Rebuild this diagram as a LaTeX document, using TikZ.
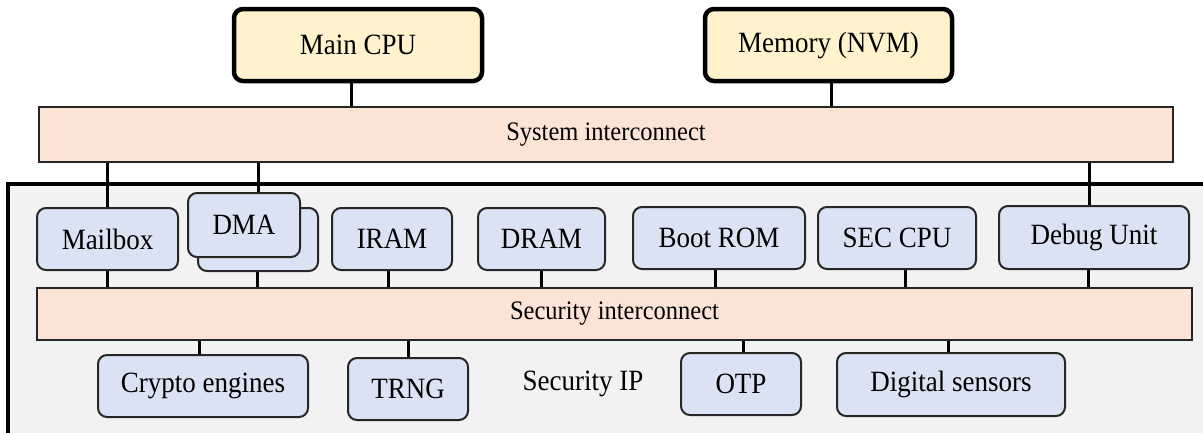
\documentclass[tikz,border=0pt]{standalone}
\usepackage{fontspec}
\usetikzlibrary{backgrounds}
\setmainfont{Liberation Serif}
\definecolor{hostfill}{HTML}{FFF2CC}
\definecolor{busfill}{HTML}{FBE3D6}
\definecolor{ipfill}{HTML}{DAE3F3}
\definecolor{zonefill}{HTML}{F2F2F2}
\tikzset{
  hostbox/.style={draw=black, line width=4.5pt, fill=hostfill, rounded corners=9pt,
    inner sep=0pt, font=\fontsize{27}{31}\selectfont},
  ipbox/.style={draw=black!85, line width=2pt, fill=ipfill, rounded corners=9pt,
    inner sep=0pt, font=\fontsize{27}{31}\selectfont},
  busbar/.style={draw=black!85, line width=1.6pt, fill=busfill, inner sep=0pt,
    font=\fontsize{24.5}{28}\selectfont},
  wire/.style={draw=black, line width=3pt},
}
% labels are set slightly taller than the plain face
\newcommand{\tall}[1]{\scalebox{1}[1.09]{#1}}
\newcommand{\blk}[7]{% style, name, x0, y0, x1, y1, text
  \node[#1, minimum width={#5-#3}, minimum height={#6-#4}] (#2) at ({(#3+#5)/2},{(#4+#6)/2}) {\tall{#7}};}
\begin{document}
\begin{tikzpicture}[x=1pt, y=-1pt]
  \useasboundingbox (0,0) rectangle (1203,432);

  % interconnects
  \blk{busbar}{sysic}{39}{107}{1173}{162}{System interconnect}
  \blk{busbar}{secic}{37}{288}{1192}{340}{Security interconnect}

  % host side
  \blk{hostbox}{mcpu}{234}{9}{482}{81}{Main CPU}
  \blk{hostbox}{nvm}{705}{9}{952}{81}{Memory (NVM)}

  % top row of the security subsystem
  \blk{ipbox}{mbox}{37}{208}{178}{270}{Mailbox}
  \blk{ipbox}{dmab}{198}{208}{318}{271}{}
  \blk{ipbox}{dmaf}{188}{193}{300}{257}{DMA}
  \blk{ipbox}{iram}{332}{208}{452}{270}{IRAM}
  \blk{ipbox}{dram}{478}{208}{605}{270}{DRAM}
  \blk{ipbox}{brom}{633}{207}{805}{269}{Boot ROM}
  \blk{ipbox}{scpu}{818}{207}{976}{269}{SEC CPU}
  \blk{ipbox}{dbg}{999}{206}{1189}{269}{Debug Unit}

  % bottom row
  \blk{ipbox}{crypto}{98}{355}{308}{417}{Crypto engines}
  \blk{ipbox}{trng}{348}{358}{468}{420}{TRNG}
  \blk{ipbox}{otp}{681}{353}{801}{415}{OTP}
  \blk{ipbox}{dsens}{837}{353}{1065}{416}{Digital sensors}
  \node[font=\fontsize{27}{31}\selectfont, inner sep=0pt] (secip) at (583,384) {\tall{Security IP}};

  \begin{scope}[on background layer]
    % page and security subsystem zone
    \fill[white] (0,0) rectangle (1203,432);
    \fill[zonefill] (8,184) rectangle (1215,445);
    % wiring beneath the boxes
    \draw[wire] ([xshift=-7pt]mcpu.south) -- ([xshift=-7pt]mcpu.south |- sysic.north);
    \draw[wire] ([xshift=3pt]nvm.south) -- ([xshift=3pt]nvm.south |- sysic.north);
    \draw[wire] (sysic.south -| mbox.north) -- (mbox.north);
    \draw[wire] (sysic.south -| dmab.north) -- (dmaf.north -| dmab.north);
    \draw[wire] ([xshift=-5pt]sysic.south -| dbg.north) -- ([xshift=-5pt]dbg.north);
    \draw[wire] (mbox.south) -- (mbox.south |- secic.north);
    \draw[wire] ([xshift=-1pt]dmab.south) -- ([xshift=-1pt]dmab.south |- secic.north);
    \draw[wire] ([xshift=-4pt]iram.south) -- ([xshift=-4pt]iram.south |- secic.north);
    \draw[wire] (dram.south) -- (dram.south |- secic.north);
    \draw[wire] ([xshift=-4pt]brom.south) -- ([xshift=-4pt]brom.south |- secic.north);
    \draw[wire] ([xshift=8pt]scpu.south) -- ([xshift=8pt]scpu.south |- secic.north);
    \draw[wire] ([xshift=-6pt]dbg.south) -- ([xshift=-6pt]dbg.south |- secic.north);
    \draw[wire] ([xshift=-4pt]crypto.north) -- ([xshift=-4pt]crypto.north |- secic.south);
    \draw[wire] (trng.north) -- (trng.north |- secic.south);
    \draw[wire] ([xshift=2pt]otp.north) -- ([xshift=2pt]otp.north |- secic.south);
    \draw[wire] ([xshift=-3pt]dsens.north) -- ([xshift=-3pt]dsens.north |- secic.south);
    % zone outline
    \draw[line width=3.5pt] (8,445) -- (8,184) -- (1215,184);
  \end{scope}
\end{tikzpicture}
\end{document}
